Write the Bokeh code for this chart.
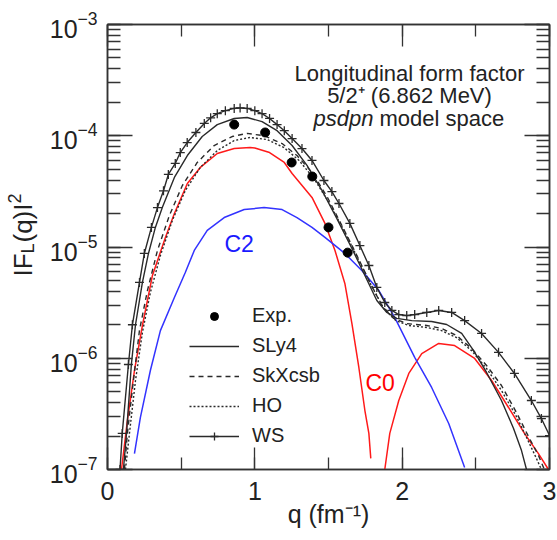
import numpy as np
from bokeh.plotting import figure
from bokeh.layouts import row
from bokeh.models import (Range1d, LogAxis, LinearAxis, LogTicker, SingleIntervalTicker,
                          Label, Legend, LegendItem, CustomJSTickFormatter)
from bokeh.embed import file_html
from bokeh.resources import INLINE

FONT = "Liberation Sans"

# ---------------- data ----------------
q_exp = [0.86, 1.07, 1.25, 1.39, 1.50, 1.63]
f_exp = [1.26e-4, 1.07e-4, 5.75e-5, 4.3e-5, 1.5e-5, 8.9e-6]

q_sly4 = [0.108, 0.129, 0.162, 0.19, 0.237, 0.278, 0.325, 0.372, 0.454, 0.542, 0.643, 0.745,
          0.860, 0.948, 1.049, 1.151, 1.253, 1.354, 1.456, 1.557, 1.659, 1.747, 1.828, 1.896,
          1.963, 2.065, 2.200, 2.302, 2.404, 2.485, 2.573, 2.674, 2.756, 2.810, 2.844]
f_sly4 = [1.0e-7, 2.11e-7, 8.79e-7, 2.0e-6, 4.80e-6, 8.75e-6, 1.50e-5, 2.26e-5, 4.22e-5, 6.64e-5,
          9.84e-5, 1.26e-4, 1.43e-4, 1.46e-4, 1.34e-4, 1.11e-4, 8.17e-5, 5.41e-5, 3.22e-5, 1.80e-5,
          9.70e-6, 5.55e-6, 3.30e-6, 2.58e-6, 2.28e-6, 2.18e-6, 2.14e-6, 2.01e-6, 1.67e-6, 1.17e-6,
          7.45e-7, 4.17e-7, 2.34e-7, 1.48e-7, 1.0e-7]

q_skx = [0.115, 0.135, 0.176, 0.217, 0.271, 0.339, 0.420, 0.508, 0.609, 0.724, 0.846, 0.948,
         1.063, 1.185, 1.286, 1.388, 1.490, 1.591, 1.693, 1.781, 1.862, 1.943, 2.031, 2.167,
         2.268, 2.370, 2.471, 2.573, 2.674, 2.776, 2.864, 2.925, 2.965]
f_skx = [1.0e-7, 2.11e-7, 6.31e-7, 1.78e-6, 4.06e-6, 9.31e-6, 1.92e-5, 3.57e-5, 5.75e-5, 8.17e-5,
         9.84e-5, 1.05e-4, 1.00e-4, 8.51e-5, 6.64e-5, 4.68e-5, 2.84e-5, 1.56e-5, 8.39e-6, 4.80e-6,
         2.98e-6, 2.28e-6, 2.05e-6, 1.97e-6, 1.85e-6, 1.60e-6, 1.22e-6, 8.61e-7, 5.69e-7, 3.25e-7,
         1.90e-7, 1.34e-7, 1.0e-7]

q_ho = [0.122, 0.149, 0.190, 0.237, 0.291, 0.359, 0.440, 0.528, 0.630, 0.745, 0.860, 0.968,
        1.083, 1.198, 1.300, 1.401, 1.503, 1.605, 1.706, 1.794, 1.875, 1.957, 2.045, 2.167,
        2.268, 2.370, 2.471, 2.573, 2.674, 2.776, 2.857, 2.911, 2.945]
f_ho = [1.0e-7, 2.11e-7, 6.31e-7, 1.71e-6, 3.90e-6, 8.39e-6, 1.73e-5, 3.22e-5, 5.19e-5, 7.36e-5,
        9.06e-5, 9.64e-5, 9.25e-5, 7.83e-5, 6.00e-5, 4.13e-5, 2.51e-5, 1.41e-5, 7.57e-6, 4.42e-6,
        2.80e-6, 2.18e-6, 1.97e-6, 1.89e-6, 1.77e-6, 1.53e-6, 1.17e-6, 8.09e-7, 5.13e-7, 2.99e-7,
        1.79e-7, 1.26e-7, 1.0e-7]

q_ws = [0.085, 0.10, 0.142, 0.169, 0.217, 0.25, 0.298, 0.339, 0.38, 0.413, 0.46, 0.494, 0.541,
        0.60, 0.657, 0.70, 0.745, 0.80, 0.86, 0.90, 0.948, 1.0, 1.049, 1.10, 1.151, 1.20, 1.253,
        1.320, 1.388, 1.469, 1.523, 1.571, 1.645, 1.713, 1.774, 1.828, 1.882, 1.930, 1.977, 2.031,
        2.085, 2.167, 2.248, 2.336, 2.424, 2.539, 2.654, 2.762, 2.877, 2.945, 3.0]
f_ws = [1.0e-7, 2.11e-7, 8.79e-7, 2.0e-6, 4.80e-6, 8.75e-6, 1.50e-5, 2.26e-5, 3.2e-5, 4.49e-5,
        5.64e-5, 7.06e-5, 8.69e-5, 1.07e-4, 1.29e-4, 1.45e-4, 1.58e-4, 1.68e-4, 1.76e-4, 1.78e-4,
        1.76e-4, 1.68e-4, 1.58e-4, 1.43e-4, 1.26e-4, 1.11e-4, 9.44e-5, 7.67e-5, 6.00e-5, 3.96e-5,
        3.15e-5, 2.46e-5, 1.63e-5, 1.03e-5, 6.82e-6, 4.33e-6, 3.17e-6, 2.69e-6, 2.47e-6, 2.42e-6,
        2.47e-6, 2.58e-6, 2.69e-6, 2.58e-6, 2.18e-6, 1.67e-6, 1.13e-6, 7.30e-7, 4.17e-7, 2.87e-7,
        2.02e-7]

# C0 contribution (two lobes) and C2 contribution
q_c0a = [0.095, 0.135, 0.183, 0.237, 0.305, 0.393, 0.454, 0.542, 0.630, 0.745, 0.860, 0.968,
         1.0, 1.1, 1.2, 1.253, 1.388, 1.476, 1.544, 1.611, 1.659, 1.706, 1.747, 1.774, 1.787]
f_c0a = [1.0e-7, 2.75e-7, 7.76e-7, 1.97e-6, 5.55e-6, 1.22e-5, 2.00e-5, 3.72e-5, 5.19e-5, 6.92e-5,
         7.67e-5, 7.83e-5, 7.76e-5, 7.06e-5, 5.75e-5, 4.58e-5, 2.79e-5, 1.63e-5, 9.31e-6, 4.70e-6,
         2.05e-6, 8.26e-7, 3.39e-7, 2.11e-7, 1.26e-7]
q_c0b = [1.882, 1.916, 1.977, 2.045, 2.133, 2.248, 2.356, 2.492, 2.607, 2.722, 2.830, 2.925, 2.993]
f_c0b = [1.0e-7, 2.11e-7, 4.17e-7, 7.30e-7, 1.10e-6, 1.36e-6, 1.30e-6, 9.95e-7, 6.31e-7, 3.61e-7,
         2.11e-7, 1.39e-7, 1.0e-7]
q_c2 = [0.183, 0.223, 0.291, 0.359, 0.454, 0.528, 0.589, 0.677, 0.792, 0.928, 1.063, 1.185,
        1.286, 1.388, 1.476, 1.611, 1.726, 1.842, 1.950, 2.085, 2.200, 2.316, 2.424]
f_c2 = [1.39e-7, 2.93e-7, 7.76e-7, 1.77e-6, 3.52e-6, 5.90e-6, 9.31e-6, 1.41e-5, 1.84e-5, 2.17e-5,
        2.26e-5, 2.17e-5, 1.84e-5, 1.50e-5, 1.22e-5, 8.75e-6, 6.15e-6, 4.06e-6, 2.32e-6, 1.02e-6,
        5.46e-7, 2.59e-7, 1.04e-7]

series_labels = ["Exp.", "SLy4", "SkXcsb", "HO", "WS"]

# ---------------- side strip holding the y-axis title ----------------
LW = 46
lp = figure(width=LW, height=540, x_range=Range1d(0, 1), y_range=Range1d(0, 1),
            output_backend="svg", toolbar_location=None,
            x_axis_location=None, y_axis_location=None,
            min_border_left=0, min_border_right=0, min_border_top=24, min_border_bottom=71)
lp.outline_line_color = None
lp.xgrid.visible = False
lp.ygrid.visible = False
lp.background_fill_color = "white"
lp.border_fill_color = "white"

# ---------------- main figure ----------------
p = figure(width=557 - LW, height=540, x_range=Range1d(0, 3), y_range=Range1d(1e-7, 1e-3),
           y_axis_type="log", output_backend="svg", toolbar_location=None,
           min_border_left=105 - LW, min_border_right=8, min_border_top=24, min_border_bottom=71)
p.background_fill_color = "white"
p.border_fill_color = "white"
p.xgrid.visible = False
p.ygrid.visible = False
p.outline_line_color = "#333333"
p.outline_line_width = 1.5

AX = "#333333"


def style_axis(ax, major_len, minor_len):
    ax.axis_line_color = AX
    ax.axis_line_width = 1.5
    ax.major_tick_in = major_len
    ax.major_tick_out = 0
    ax.minor_tick_in = minor_len
    ax.minor_tick_out = 0
    ax.major_tick_line_color = AX
    ax.minor_tick_line_color = AX
    ax.major_tick_line_width = 1.3
    ax.minor_tick_line_width = 1.3


xa = p.xaxis[0]
xa.ticker = SingleIntervalTicker(interval=1, num_minor_ticks=2)
style_axis(xa, 22, 12)
xa.major_label_text_font = FONT
xa.major_label_text_font_size = "25px"
xa.major_label_text_color = "#222222"
xa.major_label_standoff = 12
xa.axis_label = "q (fm\u207b\u00b9)"
xa.axis_label_text_font = FONT
xa.axis_label_text_font_style = "normal"
xa.axis_label_text_font_size = "25px"
xa.axis_label_text_color = "#222222"
xa.axis_label_standoff = -3

ya = p.yaxis[0]
ya.ticker = LogTicker(num_minor_ticks=10)
style_axis(ya, 25, 13)
ya.major_label_text_font = FONT
ya.major_label_text_font_size = "25px"
ya.major_label_text_color = "#222222"
ya.major_label_standoff = 10

top = LinearAxis(ticker=SingleIntervalTicker(interval=1, num_minor_ticks=2),
                 formatter=CustomJSTickFormatter(code="return ''"))
style_axis(top, 22, 12)
top.major_label_text_font_size = "0px"
top.major_label_standoff = 0
p.add_layout(top, "above")

right = LogAxis(ticker=LogTicker(num_minor_ticks=10),
                formatter=CustomJSTickFormatter(code="return ''"))
style_axis(right, 25, 13)
right.major_label_text_font_size = "0px"
right.major_label_standoff = 0
p.add_layout(right, "right")

# ---------------- curves ----------------
RED = "#ff1a1a"
BLUE = "#3333ff"
BLK = "#2a2a2a"

p.line(q_c0a, f_c0a, line_color=RED, line_width=1.5)
p.line(q_c0b, f_c0b, line_color=RED, line_width=1.5)
p.line(q_c2, f_c2, line_color=BLUE, line_width=1.5)

r_ho = p.line(q_ho, f_ho, line_color=BLK, line_width=1.4, line_dash="2 2")
r_skx = p.line(q_skx, f_skx, line_color=BLK, line_width=1.4, line_dash="5 4")
r_sly = p.line(q_sly4, f_sly4, line_color=BLK, line_width=1.4)
r_ws = p.line(q_ws, f_ws, line_color=BLK, line_width=1.4)
r_wsx = p.scatter(q_ws, f_ws, marker="cross", size=9, line_color=BLK, line_width=1.3)
r_exp = p.scatter(q_exp, f_exp, marker="circle", size=9, fill_color="black", line_color="black")

legend = Legend(items=[LegendItem(label=series_labels[0], renderers=[r_exp]),
                       LegendItem(label=series_labels[1], renderers=[r_sly]),
                       LegendItem(label=series_labels[2], renderers=[r_skx]),
                       LegendItem(label=series_labels[3], renderers=[r_ho]),
                       LegendItem(label=series_labels[4], renderers=[r_ws, r_wsx])],
                location=(82, 22), border_line_alpha=0, background_fill_alpha=0,
                padding=0, margin=0, spacing=7, glyph_width=50, glyph_height=20,
                label_standoff=13, label_text_font=FONT, label_text_font_size="20px",
                label_text_color="#222222")
p.add_layout(legend)


# ---------------- text annotations ----------------
def lab(fig, text, x, y, size, color="#222222", align="left", style="normal", angle=0.0):
    fig.add_layout(Label(x=x, y=y, x_units="screen", y_units="screen", text=text,
                         text_font=FONT, text_font_size=size, text_color=color,
                         text_align=align, text_font_style=style, angle=angle,
                         text_baseline="alphabetic"))


lab(p, "Longitudinal form factor", 302, 396, "22px", align="center")
lab(p, "5/2\u207a (6.862 MeV)", 302, 374, "22px", align="center")
lab(p, "psdpn", 266, 351, "22px", align="right", style="italic")
lab(p, "model space", 272, 351, "22px", align="left")

lab(p, "C2", 117, 226, "23px", color="#1a1aff")
lab(p, "C0", 258, 87, "23px", color="#ff0000")

# y-axis title |F_L(q)|^2 built from pieces, rotated, in the side strip
A = np.pi / 2
lab(lp, "IF", 22, 193, "26px", angle=A)
lab(lp, "L", 27, 216, "18px", angle=A)
lab(lp, "(q)I", 22, 227, "26px", angle=A)
lab(lp, "2", 14, 266, "18px", angle=A)

page = row(lp, p)
open("out.html", "w").write(file_html(page, INLINE))
